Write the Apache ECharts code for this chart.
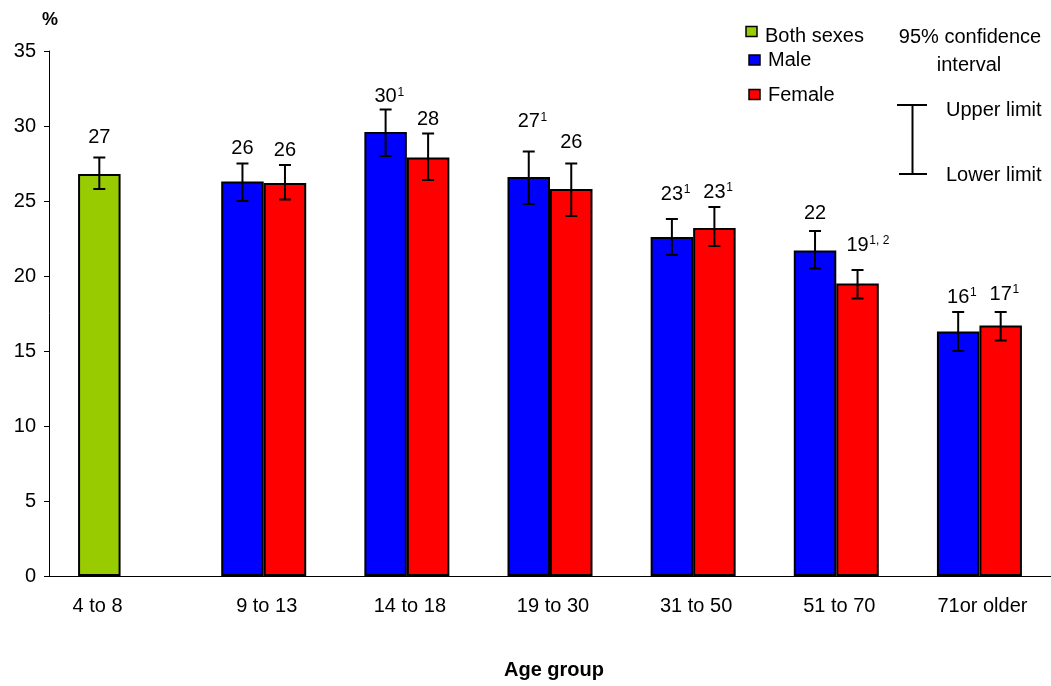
<!DOCTYPE html>
<html>
<head>
<meta charset="utf-8">
<script src="https://cdn.jsdelivr.net/npm/echarts@6/dist/echarts.min.js"></script>
<style>
html, body { margin: 0; padding: 0; background: #fff; }
#chart { width: 1051px; height: 686px; }
</style>
</head>
<body>
<div id="chart"></div>
<script>
// ---- data ----
const categories = ['4 to 8', '9 to 13', '14 to 18', '19 to 30', '31 to 50', '51 to 70', '71or older'];
// first category: both sexes
const maleValues   = [26.8, 26.3, 29.6, 26.6, 22.6, 21.7, 16.3];
const maleLower    = [25.8, 25.0, 28.0, 24.8, 21.4, 20.5, 15.0];
const maleUpper    = [27.9, 27.5, 31.1, 28.3, 23.8, 23.0, 17.6];
const maleLabels   = ['27', '26', '30', '27', '23', '22', '16'];
const maleNotes    = ['', '', '1', '1', '1', '', '1'];
const femaleValues = [null, 26.2, 27.9, 25.8, 23.2, 19.5, 16.7];
const femaleLower  = [null, 25.1, 26.4, 24.0, 22.0, 18.5, 15.7];
const femaleUpper  = [null, 27.4, 29.5, 27.5, 24.6, 20.4, 17.6];
const femaleLabels = [null, '26', '28', '26', '23', '19', '17'];
const femaleNotes  = ['', '', '', '', '1', '1, 2', '1'];
const yTicks = [0, 5, 10, 15, 20, 25, 30, 35];

// ---- style ----
const FONT = '"Liberation Sans", Arial, Helvetica, sans-serif';
const BAR_W = 42.5;
const maleLift = [20, 15, 13, 30, 25, 18, 15];
const femaleLift = [0, 15, 14, 21, 15, 25, 18];

function makeErr(lower, upper) {
  return categories.map((c, i) => lower[i] == null ? null : [i, lower[i], upper[i]]).filter(Boolean);
}

function errRender(side, labels, notes, lift) {
  return function (params, api) {
    const i = api.value(0);
    const lo = api.value(1), hi = api.value(2);
    const pHi = api.coord([i, hi]);
    const pLo = api.coord([i, lo]);
    const x = pHi[0] + side * BAR_W / 2;
    const yH = pHi[1], yL = pLo[1];
    const cap = 6;
    const ls = { stroke: '#000', lineWidth: 2 };
    const ly = yH - lift[i];
    const children = [
      { type: 'line', shape: { x1: x, y1: yH, x2: x, y2: yL }, style: ls },
      { type: 'line', shape: { x1: x - cap, y1: yH, x2: x + cap, y2: yH }, style: ls },
      { type: 'line', shape: { x1: x - cap, y1: yL, x2: x + cap, y2: yL }, style: ls },
      { type: 'text', x: x, y: ly, style: { text: labels[i], fill: '#000', font: '20px ' + FONT, align: 'center', verticalAlign: 'middle', textAlign: 'center', textVerticalAlign: 'middle' } }
    ];
    if (notes[i]) {
      children.push({ type: 'text', x: x + 11.8, y: ly - 10, style: { text: notes[i], fill: '#000', font: '12px ' + FONT, align: 'left', verticalAlign: 'top', textAlign: 'left', textVerticalAlign: 'top' } });
    }
    return { type: 'group', children: children };
  };
}

const chart = echarts.init(document.getElementById('chart'), null, { renderer: 'canvas' });

const legendText = (t, x, y, align) => ({ type: 'text', x: x, y: y, style: { text: t, fill: '#000', font: '20px ' + FONT, align: align || 'left', verticalAlign: 'middle' } });
const legendBox = (x, y, color) => ({ type: 'rect', shape: { x: x, y: y, width: 11, height: 10 }, style: { fill: color, stroke: '#000', lineWidth: 1.5 } });

const option = {
  animation: false,
  backgroundColor: '#fff',
  grid: { left: 49, top: 51, width: 1008, height: 525, containLabel: false },
  xAxis: {
    type: 'category',
    data: categories,
    axisLine: { show: true, lineStyle: { color: '#000', width: 1 } },
    axisTick: { show: false },
    axisLabel: {
      color: '#000', fontSize: 20, fontFamily: FONT, margin: 20, interval: 0,
      formatter: (v, i) => i === 0 ? '{f|' + v + '}' : '{n|' + v + '}',
      rich: {
        f: { fontSize: 20, fontFamily: FONT, color: '#000', padding: [0, 46, 0, 0] },
        n: { fontSize: 20, fontFamily: FONT, color: '#000', padding: [0, 0, 0, 6] }
      }
    },
    splitLine: { show: false }
  },
  yAxis: {
    type: 'value',
    min: yTicks[0], max: yTicks[yTicks.length - 1], interval: 5,
    axisLine: { show: true, lineStyle: { color: '#000', width: 1 } },
    axisTick: { show: true, length: 5, inside: false, lineStyle: { color: '#000' } },
    axisLabel: { color: '#000', fontSize: 20, fontFamily: FONT, margin: 13 },
    splitLine: { show: false }
  },
  series: [
    {
      name: 'Male', type: 'bar', barWidth: BAR_W, barGap: '0%',
      data: maleValues.map((v, i) => i === 0 ? { value: v, itemStyle: { color: '#99CC00' } } : v),
      itemStyle: { color: '#0000FF', borderColor: '#000', borderWidth: 2 }
    },
    {
      name: 'Female', type: 'bar', barWidth: BAR_W, barGap: '0%',
      data: femaleValues.map(v => v == null ? '-' : v),
      itemStyle: { color: '#FF0000', borderColor: '#000', borderWidth: 2 }
    },
    {
      type: 'custom', z: 5, renderItem: errRender(-1, maleLabels, maleNotes, maleLift),
      data: makeErr(maleLower, maleUpper), encode: { x: 0, y: [1, 2] }
    },
    {
      type: 'custom', z: 5, renderItem: errRender(1, femaleLabels, femaleNotes, femaleLift),
      data: makeErr(femaleLower, femaleUpper), encode: { x: 0, y: [1, 2] }
    }
  ],
  graphic: [
    { type: 'text', x: 42, y: 20, style: { text: '%', fill: '#000', font: 'bold 18px ' + FONT, align: 'left', verticalAlign: 'middle' } },
    { type: 'text', x: 554, y: 670, style: { text: 'Age group', fill: '#000', font: 'bold 20px ' + FONT, align: 'center', verticalAlign: 'middle' } },
    legendBox(746, 26.5, '#99CC00'),
    legendText('Both sexes', 765, 36),
    legendBox(749, 55, '#0000FF'),
    legendText('Male', 768, 60),
    legendBox(749, 89.5, '#FF0000'),
    legendText('Female', 768, 95),
    legendText('95% confidence', 970, 37.5, 'center'),
    legendText('interval', 969, 65.5, 'center'),
    { type: 'line', shape: { x1: 912.5, y1: 105, x2: 912.5, y2: 174 }, style: { stroke: '#000', lineWidth: 2 } },
    { type: 'line', shape: { x1: 897, y1: 105, x2: 927, y2: 105 }, style: { stroke: '#000', lineWidth: 2 } },
    { type: 'line', shape: { x1: 899, y1: 174, x2: 927, y2: 174 }, style: { stroke: '#000', lineWidth: 2 } },
    legendText('Upper limit', 946, 110),
    legendText('Lower limit', 946, 175)
  ]
};
chart.setOption(option);
</script>
</body>
</html>
